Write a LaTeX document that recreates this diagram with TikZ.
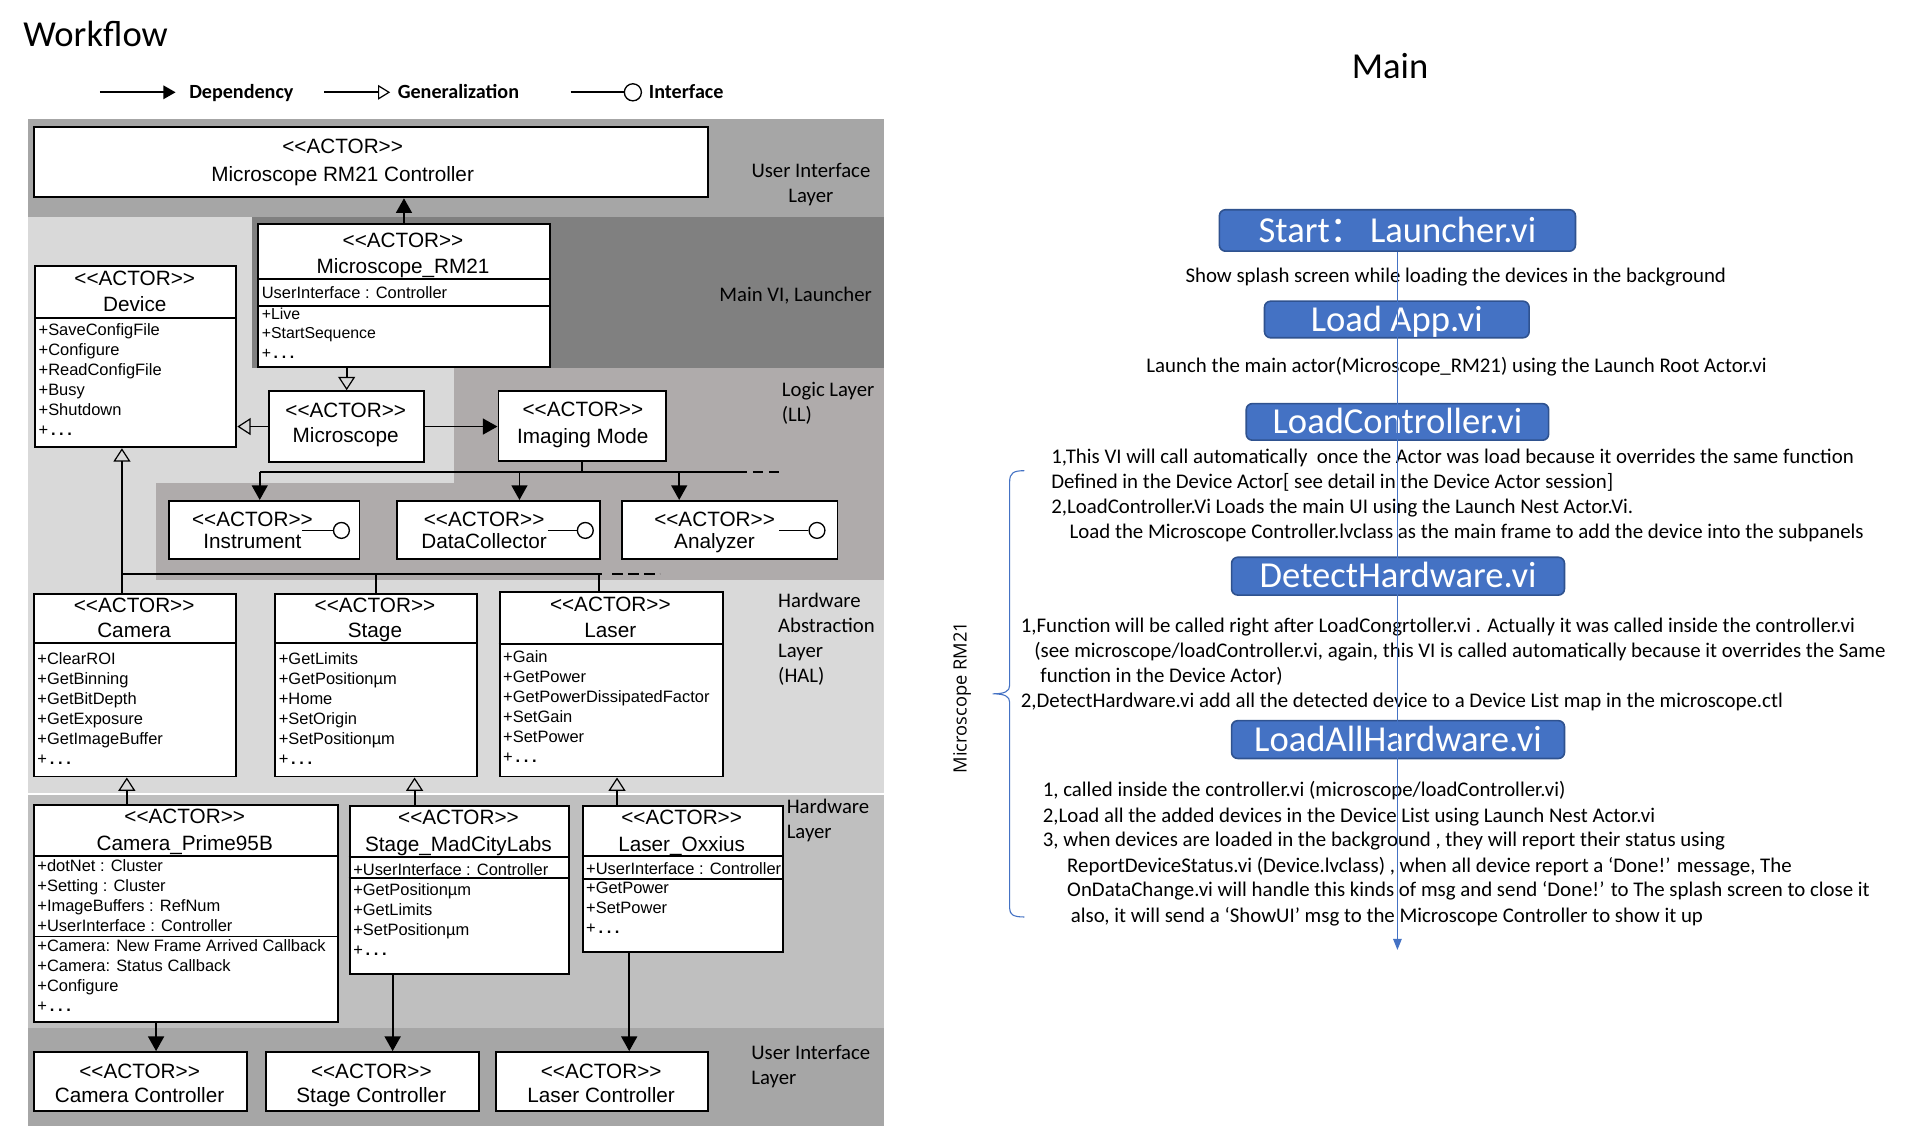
\documentclass[tikz,border=0pt]{standalone}
\usepackage{fontspec}
\setmainfont{Carlito}
\newfontfamily\arialfont{Liberation Sans}
\newfontfamily\cjkfont{Noto Sans CJK SC}
\newfontfamily\opensansfont{Open Sans}
\usetikzlibrary{arrows.meta, positioning}
\definecolor{uiband}{HTML}{A6A6A6}
\definecolor{lightband}{HTML}{D9D9D9}
\definecolor{mainband}{HTML}{808080}
\definecolor{logicband}{HTML}{AFABAB}
\definecolor{hwband}{HTML}{BFBFBF}
\definecolor{flowblue}{HTML}{4472C4}
\definecolor{flowedge}{HTML}{2F528F}
\newcommand{\actor}{<{}<ACTOR>{}>}
\newcommand{\moreops}{+\,\textbf{.\hspace{3pt}.\hspace{3pt}.}}

\begin{document}
\begin{tikzpicture}[x=1pt, y=-1pt, line join=miter,
    umlbox/.style={draw, line width=1.6pt, fill=white, anchor=north west, inner sep=0pt},
    head/.style={font=\arialfont\fontsize{17}{#1}\selectfont, inner sep=0pt},
    head/.default=21,
    body/.style={font=\arialfont\fontsize{13.5}{16.4}\selectfont, inner sep=0pt, anchor=west, xshift=3.5pt},
    sep/.style={line width=1.6pt},
    conn/.style={line width=1.5pt},
    dep/.style={conn, -{Triangle[length=12pt, width=13pt]}},
    gen/.style={conn, -{Triangle[open, length=11pt, width=14pt, line width=1pt]}},
    lollipop/.style={circle, draw, line width=1.1pt, fill=white, minimum size=13pt, inner sep=0pt},
    layer/.style={font=\fontsize{17}{20.5}\selectfont, inner sep=0pt},
    legend/.style={font=\bfseries\fontsize{16.5}{19}\selectfont, inner sep=0pt, anchor=base west},
    flowbox/.style={draw=flowedge, fill=flowblue, line width=1.3pt, rounded corners=5pt, text=white, font=\fontsize{30}{32}\selectfont, inner sep=0pt, text height=19pt, text depth=0pt},
    note/.style={font=\fontsize{17.1}{20}\selectfont, inner sep=0pt, anchor=base west},
    flowline/.style={draw=flowblue, line width=0.9pt, -{Triangle[length=9pt, width=7pt]}}
  ]
  \useasboundingbox (0,0) rectangle (1568,923);
  \fill[white] (0,0) rectangle (1568,923);
  %
  \node[font=\fontsize{30}{36}\selectfont, anchor=base west, inner sep=0pt] (title) at (19,38.5) {Workflow};
  \node[font=\fontsize{30}{36}\selectfont, anchor=base, inner sep=0pt] (maintitle) at (1140,64) {Main};
  %
  % legend
  \coordinate (legdep0) at (82,75.7);
  \coordinate (legdep1) at (144,75.7);
  \coordinate (leggen0) at (266,75.7);
  \coordinate (leggen1) at (320,75.7);
  \coordinate (legif0) at (468,75.7);
  \node[legend] (legdep) at (155,80.5) {Dependency};
  \node[legend] (leggen) at (326,80.5) {Generalization};
  \node[legend] (legif) at (532,80.5) {Interface};
  \node[lollipop, minimum size=14pt] (legcirc) at (519,75.7) {};
  \draw[conn, -{Triangle[length=10pt, width=11pt]}] (legdep0) -- (legdep1);
  \draw[conn, -{Triangle[open, length=10pt, width=12pt, line width=1pt]}] (leggen0) -- (leggen1);
  \draw[conn] (legif0) -- (legcirc.west);
  %
  % layers
  \fill[uiband] (23,98) rectangle (725,178);
  \fill[lightband] (23,178) rectangle (725,650);
  \fill[mainband] (207,178) rectangle (725,302);
  \fill[logicband] (372,302) rectangle (725,396);
  \fill[logicband] (128,396) rectangle (725,476);
  \fill[hwband] (23,652) rectangle (725,843);
  \fill[uiband] (23,843) rectangle (725,923);
  %
  \node[layer] (uitop) at (665,151.4) {\begin{tabular}{c}User Interface\\ Layer\end{tabular}};
  \node[layer] (mainvi) at (652.5,242.4) {Main VI, Launcher};
  \node[layer, anchor=west] (logic) at (641,331.4) {\begin{tabular}{@{}l@{}}Logic Layer\\ (LL)\end{tabular}};
  \node[layer, anchor=west] (hal) at (638,525) {\begin{tabular}{@{}l@{}}Hardware\\ Abstraction\\ Layer\\ (HAL)\end{tabular}};
  \node[layer, anchor=west] (hwlayer) at (645,673) {\begin{tabular}{@{}l@{}}Hardware\\ Layer\end{tabular}};
  \node[layer, anchor=west] (uibottom) at (616,875) {\begin{tabular}{@{}l@{}}User Interface\\ Layer\end{tabular}};
  %
  % actor boxes
  \node[umlbox, minimum width=553pt, minimum height=58pt] (ctrl) at (27,103) {};
  \node[umlbox, minimum width=239pt, minimum height=117pt] (rm21) at (211,183) {};
  \node[umlbox, minimum width=165pt, minimum height=149pt] (device) at (28,217) {};
  \node[umlbox, minimum width=127pt, minimum height=58pt] (microscope) at (220,320) {};
  \node[umlbox, minimum width=137pt, minimum height=57pt] (imaging) at (408,320) {};
  \node[umlbox, minimum width=156pt, minimum height=48pt] (instrument) at (138,410) {};
  \node[umlbox, minimum width=166pt, minimum height=48pt] (datacollector) at (325,410) {};
  \node[umlbox, minimum width=177pt, minimum height=48pt] (analyzer) at (509,410) {};
  \node[umlbox, minimum width=166pt, minimum height=150pt] (camera) at (27,486) {};
  \node[umlbox, minimum width=165pt, minimum height=150pt] (stage) at (225,486) {};
  \node[umlbox, minimum width=183pt, minimum height=151pt] (laser) at (409,485) {};
  \node[umlbox, minimum width=249pt, minimum height=178pt] (prime) at (27,659) {};
  \node[umlbox, minimum width=180pt, minimum height=138pt] (madcity) at (286,660) {};
  \node[umlbox, minimum width=164pt, minimum height=120pt] (oxxius) at (477,660) {};
  \node[umlbox, minimum width=175pt, minimum height=48pt] (camctrl) at (27,862) {};
  \node[umlbox, minimum width=175pt, minimum height=48pt] (stagectrl) at (217,862) {};
  \node[umlbox, minimum width=174pt, minimum height=48pt] (laserctrl) at (406,862) {};
  %
  \draw[sep] (rm21.west |- 0,229) -- (rm21.east |- 0,229);
  \draw[sep] (rm21.west |- 0,251) -- (rm21.east |- 0,251);
  \draw[sep] (device.west |- 0,261) -- (device.east |- 0,261);
  \draw[sep] (camera.west |- 0,527) -- (camera.east |- 0,527);
  \draw[sep] (stage.west |- 0,527) -- (stage.east |- 0,527);
  \draw[sep] (laser.west |- 0,528) -- (laser.east |- 0,528);
  \draw[sep] (prime.west |- 0,702) -- (prime.east |- 0,702);
  \draw[sep] (prime.west |- 0,768) -- (prime.east |- 0,768);
  \draw[sep] (madcity.west |- 0,703) -- (madcity.east |- 0,703);
  \draw[sep] (madcity.west |- 0,720) -- (madcity.east |- 0,720);
  \draw[sep] (oxxius.west |- 0,702) -- (oxxius.east |- 0,702);
  \draw[sep] (oxxius.west |- 0,721) -- (oxxius.east |- 0,721);
  %
  \node[head=23] (ctrlhead) at (281,132.5) {\begin{tabular}{c}\actor\\ Microscope RM21 Controller\end{tabular}};
  \node[head] (rm21head) at (330.5,209.5) {\begin{tabular}{c}\actor\\ Microscope\_RM21\end{tabular}};
  \node[body] (rm21attr) at (rm21.west |- 0,241.5) {\begin{tabular}{@{}l@{}}UserInterface : Controller\end{tabular}};
  \node[body, font=\arialfont\fontsize{13}{16}\selectfont] (rm21ops) at (rm21.west |- 0,274.5) {\begin{tabular}{@{}l@{}}+Live\\ +StartSequence\\ \moreops\end{tabular}};
  \node[head] (devicehead) at (110.5,240.5) {\begin{tabular}{c}\actor\\ Device\end{tabular}};
  \node[body] (deviceops) at (device.west |- 0,312.5) {\begin{tabular}{@{}l@{}}+SaveConfigFile\\ +Configure\\ +ReadConfigFile\\ +Busy\\ +Shutdown\\ \moreops\end{tabular}};
  \node[head] (microscopehead) at (283.5,348.5) {\begin{tabular}{c}\actor\\ Microscope\end{tabular}};
  \node[head=22] (imaginghead) at (478,348) {\begin{tabular}{c}\actor\\ Imaging Mode\end{tabular}};
  \node[head=18] (instrumenthead) at (207,437) {\begin{tabular}{c}\actor\\ Instrument\end{tabular}};
  \node[head=18] (datacollectorhead) at (397,437) {\begin{tabular}{c}\actor\\ DataCollector\end{tabular}};
  \node[head=18] (analyzerhead) at (586,437) {\begin{tabular}{c}\actor\\ Analyzer\end{tabular}};
  \node[head] (camerahead) at (110,508.5) {\begin{tabular}{c}\actor\\ Camera\end{tabular}};
  \node[body] (cameraops) at (camera.west |- 0,582.5) {\begin{tabular}{@{}l@{}}+ClearROI\\ +GetBinning\\ +GetBitDepth\\ +GetExposure\\ +GetImageBuffer\\ \moreops\end{tabular}};
  \node[head] (stagehead) at (307.5,508.5) {\begin{tabular}{c}\actor\\ Stage\end{tabular}};
  \node[body] (stageops) at (stage.west |- 0,582.5) {\begin{tabular}{@{}l@{}}+GetLimits\\ +GetPositionµm\\ +Home\\ +SetOrigin\\ +SetPositionµm\\ \moreops\end{tabular}};
  \node[head] (laserhead) at (500.5,508) {\begin{tabular}{c}\actor\\ Laser\end{tabular}};
  \node[body] (laserops) at (laser.west |- 0,581) {\begin{tabular}{@{}l@{}}+Gain\\ +GetPower\\ +GetPowerDissipatedFactor\\ +SetGain\\ +SetPower\\ \moreops\end{tabular}};
  \node[head=22] (primehead) at (151.5,682) {\begin{tabular}{c}\actor\\ Camera\_Prime95B\end{tabular}};
  \node[body] (primeattr) at (prime.west |- 0,736) {\begin{tabular}{@{}l@{}}+dotNet : Cluster\\ +Setting : Cluster\\ +ImageBuffers : RefNum\\ +UserInterface : Controller\end{tabular}};
  \node[body] (primeops) at (prime.west |- 0,801.5) {\begin{tabular}{@{}l@{}}+Camera: New Frame Arrived Callback\\ +Camera: Status Callback\\ +Configure\\ \moreops\end{tabular}};
  \node[head=22] (madcityhead) at (376,682.5) {\begin{tabular}{c}\actor\\ Stage\_MadCityLabs\end{tabular}};
  \node[body] (madcityattr) at (madcity.west |- 0,714.5) {\begin{tabular}{@{}l@{}}+UserInterface : Controller\end{tabular}};
  \node[body] (madcityops) at (madcity.west |- 0,756) {\begin{tabular}{@{}l@{}}+GetPositionµm\\ +GetLimits\\ +SetPositionµm\\ \moreops\end{tabular}};
  \node[head=22] (oxxiushead) at (559,682.5) {\begin{tabular}{c}\actor\\ Laser\_Oxxius\end{tabular}};
  \node[body] (oxxiusattr) at (oxxius.west |- 0,713.5) {\begin{tabular}{@{}l@{}}+UserInterface : Controller\end{tabular}};
  \node[body] (oxxiusops) at (oxxius.west |- 0,746) {\begin{tabular}{@{}l@{}}+GetPower\\ +SetPower\\ \moreops\end{tabular}};
  \node[head=19] (camctrlhead) at (114.5,890.5) {\begin{tabular}{c}\actor\\ Camera Controller\end{tabular}};
  \node[head=19] (stagectrlhead) at (304.5,890.5) {\begin{tabular}{c}\actor\\ Stage Controller\end{tabular}};
  \node[head=19] (laserctrlhead) at (493,890.5) {\begin{tabular}{c}\actor\\ Laser Controller\end{tabular}};
  %
  % interfaces
  \node[lollipop] (ifinst) at (280,435) {};
  \node[lollipop] (ifdc) at (480,435) {};
  \node[lollipop] (ifan) at (670,435) {};
  \coordinate (ifinst0) at (248,435);
  \coordinate (ifdc0) at (449,435);
  \coordinate (ifan0) at (639,435);
  \draw[conn] (ifinst0) -- (ifinst.west);
  \draw[conn] (ifdc0) -- (ifdc.west);
  \draw[conn] (ifan0) -- (ifan.west);
  %
  % connectors
  \path[dep] (rm21.north) edge (rm21.north |- ctrl.south);
  \path[gen] (rm21.south -| microscope.north) edge (microscope.north);
  \path[gen] (microscope.west) edge (microscope.west -| device.east);
  \path[dep] (microscope.east) edge (microscope.east -| imaging.west);
  %
  \coordinate (llbusL) at (213,387);
  \coordinate (llbusDC) at (426,387);
  \coordinate (llbusAN) at (557,387);
  \coordinate (llbusR) at (613,387);
  \coordinate (llbusE) at (640,387);
  \draw[conn] (imaging.south) -- (imaging.south |- llbusL);
  \draw[conn] (llbusL) -- (llbusR);
  \draw[conn, dash pattern=on 8pt off 5pt] ([xshift=4.5pt]llbusR) -- (llbusE);
  \path[dep] (llbusL) edge (llbusL |- instrument.north);
  \path[dep] (llbusDC) edge (llbusDC |- datacollector.north);
  \path[dep] (llbusAN) edge (llbusAN |- analyzer.north);
  %
  \coordinate (halbusL) at (100,471);
  \coordinate (halbusLA) at (491,471);
  \coordinate (halbusR) at (494,471);
  \coordinate (halbusE) at (541,471);
  \path[gen] (camera.north -| halbusL) edge (device.south -| halbusL);
  \draw[conn] (halbusL) -- (halbusR);
  \draw[conn, dash pattern=on 9pt off 4pt] ([xshift=8pt]halbusR) -- (halbusE);
  \draw[conn] (stage.north |- halbusL) -- (stage.north);
  \draw[conn] (halbusLA) -- (halbusLA |- laser.north);
  %
  \path[gen] (prime.north -| 104,0) edge (camera.south -| 104,0);
  \path[gen] (madcity.north -| 340,0) edge (stage.south -| 340,0);
  \path[gen] (oxxius.north -| 506,0) edge (laser.south -| 506,0);
  \path[dep] (prime.south -| 128,0) edge (camctrl.north -| 128,0);
  \path[dep] (madcity.south -| 322,0) edge (stagectrl.north -| 322,0);
  \path[dep] (oxxius.south -| 516,0) edge (laserctrl.north -| 516,0);
  %
  % main flow
  \node[flowbox, minimum width=292pt, minimum height=34pt] (start) at (1146,189) {Start{\cjkfont ：}\hspace{3pt}Launcher.vi};
  \node[flowbox, minimum width=217pt, minimum height=30pt] (loadapp) at (1145.5,262) {Load App.vi};
  \node[flowbox, minimum width=248pt, minimum height=30pt] (loadctrl) at (1146,346) {LoadController.vi};
  \node[flowbox, minimum width=273pt, minimum height=31pt] (detecthw) at (1146.5,472.5) {DetectHardware.vi};
  \node[flowbox, minimum width=273pt, minimum height=31pt] (loadallhw) at (1146.5,606.5) {LoadAllHardware.vi};
  %
  \node[note] (splash) at (972,231.5) {Show splash screen while loading the devices in the background};
  \node[note] (launch) at (940,305.5) {Launch the main actor(Microscope\_RM21) using the Launch Root Actor.vi};
  \node[note] (lc1) at (862,380.5) {1,This VI will call automatically\ \ once the Actor was load because it overrides the same function};
  \node[note] (lc2) at (862,400.5) {Defined in the Device Actor[ see detail in the Device Actor session]};
  \node[note] (lc3) at (862,421.5) {2,LoadController.Vi Loads the main UI using the Launch Nest Actor.Vi.};
  \node[note] (lc4) at (877,441.5) {Load the Microscope Controller.lvclass as the main frame to add the device into the subpanels};
  \node[note] (dh1) at (837,518.5) {1,Function will be called right after LoadCongrtoller.vi . Actually it was called inside the controller.vi};
  \node[note] (dh2) at (848,539.5) {(see microscope/loadController.vi, again, this VI is called automatically because it overrides the Same};
  \node[note] (dh3) at (853,559.5) {function in the Device Actor)};
  \node[note] (dh4) at (837,580.5) {2,DetectHardware.vi add all the detected device to a Device List map in the microscope.ctl};
  \node[note] (la1) at (855,653.5) {1, called inside the controller.vi (microscope/loadController.vi)};
  \node[note] (la2) at (855,674.5) {2,Load all the added devices in the Device List using Launch Nest Actor.vi};
  \node[note] (la3) at (855,694.5) {3, when devices are loaded in the background , they will report their status using};
  \node[note] (la4) at (875,715.5) {ReportDeviceStatus.vi (Device.lvclass) , when all device report a ‘Done!’ message, The};
  \node[note] (la5) at (875,735.5) {OnDataChange.vi will handle this kinds of msg and send ‘Done!’ to The splash screen to close it};
  \node[note] (la6) at (878,756.5) {also, it will send a ‘ShowUI’ msg to the Microscope Controller to show it up};
  %
  \node[font=\opensansfont\fontsize{15}{18}\selectfont, rotate=90, inner sep=0pt] (rmlabel) at (789,572) {Microscope RM21};
  \draw[flowblue, line width=0.9pt] (840,386) .. controls (831,386) and (828,388) .. (828,395) -- (828,562) .. controls (828,567) and (824,569) .. (814,569) .. controls (824,569) and (828,571) .. (828,576) -- (828,745) .. controls (828,750) and (831,752) .. (840,752);
  %
  \coordinate (flowend) at (1146,779);
  \draw[flowline] (start.south) -- (flowend);
\end{tikzpicture}
\end{document}
